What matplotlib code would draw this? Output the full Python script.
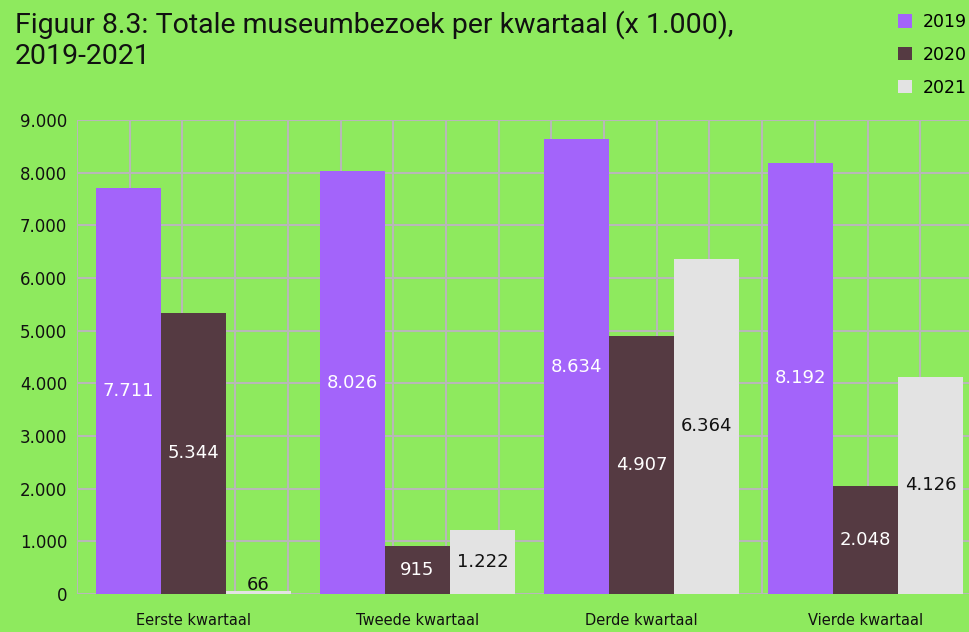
import matplotlib
matplotlib.use("Agg")
import matplotlib.pyplot as plt
import numpy as np

# Museum visits per quarter (x 1.000)
quarters = ["Eerste kwartaal", "Tweede kwartaal", "Derde kwartaal", "Vierde kwartaal"]
years = ["2019", "2020", "2021"]
visits_2019 = [7711, 8026, 8634, 8192]
visits_2020 = [5344, 915, 4907, 2048]
visits_2021 = [66, 1222, 6364, 4126]
y_ticks = [0, 1000, 2000, 3000, 4000, 5000, 6000, 7000, 8000, 9000]
y_tick_labels = ["0", "1.000", "2.000", "3.000", "4.000", "5.000", "6.000", "7.000", "8.000", "9.000"]

bg = "#8eea5e"
colors = ["#a364fa", "#553a42", "#e3e3e3"]
label_colors = ["white", "white", "#111111"]
grid_color = "#b8b8b8"

fig = plt.figure(figsize=(9.69, 6.32), dpi=100, facecolor=bg)
ax = fig.add_axes([77 / 969, 38 / 632, 896 / 969, 474 / 632])
ax.set_facecolor(bg)

series = [visits_2019, visits_2020, visits_2021]
n = len(quarters)
bar_w = 0.29
centers = np.arange(n) + 0.52

ax.set_xlim(0, n)
ax.set_ylim(0, 9000)

# square-ish grid: 17 vertical divisions, horizontal lines every 1.000
for xv in np.linspace(0, n, 18):
    ax.axvline(xv, color=grid_color, lw=1.5, zorder=0)
for yv in y_ticks:
    ax.axhline(yv, color=grid_color, lw=1.5, zorder=0)

for i, (vals, col, lc, yr) in enumerate(zip(series, colors, label_colors, years)):
    xs = centers + (i - 1) * bar_w
    ax.bar(xs, vals, width=bar_w, color=col, label=yr, zorder=2)
    for x, v in zip(xs, vals):
        ax.text(x, max(v / 2, 170), f"{v:,}".replace(",", "."), ha="center", va="center",
                color=lc, fontsize=13, family="DejaVu Sans", zorder=3)

ax.set_yticks(y_ticks)
ax.set_yticklabels(y_tick_labels, fontsize=12)
ax.set_xticks(centers)
ax.set_xticklabels(quarters, fontsize=10.5)
ax.tick_params(axis="both", length=0, pad=7, colors="#111111")
ax.tick_params(axis="x", pad=14)
for s in ax.spines.values():
    s.set_visible(False)

fig.text(15 / 969, 1 - 40 / 632, "Figuur 8.3: Totale museumbezoek per kwartaal (x 1.000),\n2019-2021",
         ha="left", va="center", fontsize=20.5, color="#111111",
         family=["Liberation Sans Narrow", "Roboto", "DejaVu Sans"], linespacing=1.2)

leg = fig.legend(loc="upper left", bbox_to_anchor=(898 / 969, 1 - 13 / 632), frameon=False,
                 fontsize=12.5, handlelength=0.8, handleheight=0.8, handletextpad=0.6,
                 labelspacing=0.85, borderaxespad=0, borderpad=0)

fig.savefig("out.png", dpi=100, facecolor=bg)
